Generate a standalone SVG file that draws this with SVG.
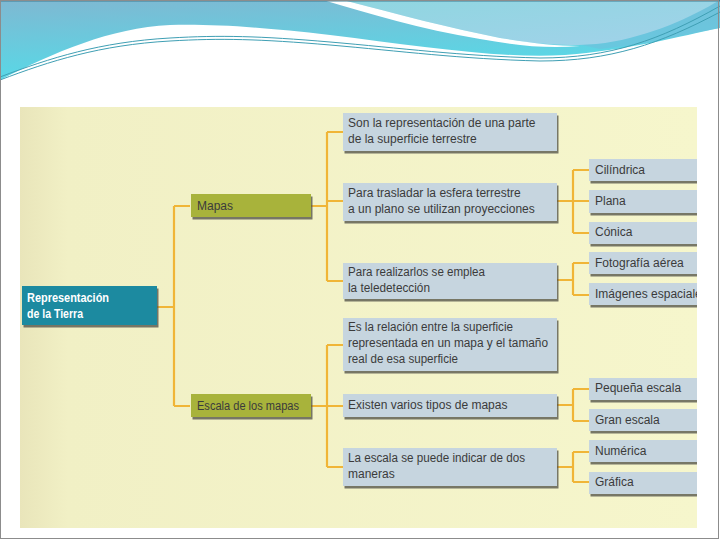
<svg xmlns="http://www.w3.org/2000/svg" width="720" height="540" viewBox="0 0 720 540">
<defs>
  <linearGradient id="teal" x1="0" y1="0" x2="0.3" y2="1">
    <stop offset="0" stop-color="#7fb8d2"/>
    <stop offset="1" stop-color="#55dbe8"/>
  </linearGradient>
  <linearGradient id="lightblue" x1="0" y1="0" x2="1" y2="1">
    <stop offset="0" stop-color="#8fd6e0"/>
    <stop offset="1" stop-color="#a2d2ea"/>
  </linearGradient>
  <linearGradient id="paper" x1="0" y1="0" x2="1" y2="0">
    <stop offset="0" stop-color="#e9e5ba"/>
    <stop offset="0.07" stop-color="#f1f0c5"/>
    <stop offset="1" stop-color="#f6f6cc"/>
  </linearGradient>
  <filter id="sh" x="-10%" y="-20%" width="130%" height="160%">
    <feDropShadow dx="1.5" dy="2.5" stdDeviation="0.7" flood-color="#4d4d45" flood-opacity="0.75"/>
  </filter>
  <clipPath id="area"><rect x="20" y="107" width="677" height="421"/></clipPath>
  <style>
    .t { font-family: "Liberation Sans", Arial, sans-serif; font-size: 12px; fill: #3b3b3b; }
    .tb { font-family: "Liberation Sans", Arial, sans-serif; font-size: 13px; font-weight: bold; fill: #ffffff; }
    .blue { fill: #c6d5df; filter: url(#sh); }
    .olive { fill: #a8b33b; filter: url(#sh); }
    .root { fill: #1a8aa0; filter: url(#sh); }
    .c { fill: none; stroke: #f0b537; stroke-width: 2.2; }
    .wl { fill: none; stroke: #3f9fb4; stroke-width: 1; }
  </style>
</defs>

<g id="background">
  <rect x="0" y="0" width="720" height="540" fill="#ffffff"/>
</g>

<g id="header">
  <path d="M0,0 H720 V28 C680,36 630,50 565,55 C500,59 420,46 330,35 C260,27 215,24 170,25 C110,28 55,52 0,80 Z" fill="url(#teal)"/>
  <path d="M0,0 H720 V28 C690,33 650,44 600,49 L560,40 C500,30 420,15 323,0 Z" fill="#6fc0dc" opacity="0.6"/>
  <path d="M343,0 H720 C690,18 650,36 605,43 C570,47 540,45 500,38 C450,28 400,15 343,0 Z" fill="url(#lightblue)"/>
  <path d="M323,0 L343,0 C400,15 450,28 500,38 C530,43 555,46 580,46 C545,49 515,45 480,39 C420,29 370,14 323,0 Z" fill="#ffffff"/>
  <path class="wl" d="M0,77 C50,58 100,42 170,38 C220,35 260,36 330,42 C400,48 460,56 540,58 C610,58 660,40 720,6"/>
  <path class="wl" d="M0,80 C50,61 100,45 170,41 C220,38 260,39 330,45 C400,51 460,59 540,61 C610,61 660,44 720,12" stroke="#6aa8b8"/>
  <rect x="0" y="0" width="720" height="1.5" fill="#3d7f96"/>
</g>

<g clip-path="url(#area)">
  <rect x="20" y="107" width="677" height="421" fill="url(#paper)"/>

  <g id="connectors">
    <path class="c" d="M157,307 H174 M174,206 V406 M174,206 H190 M174,406 H190"/>
    <path class="c" d="M311,206 H327 M327,132 V281 M327,132 H343 M327,201 H343 M327,281 H343"/>
    <path class="c" d="M311,406 H343 M327,345 V467 M327,345 H343 M327,467 H343"/>
    <path class="c" d="M557,201 H589 M573,170 V233 M573,170 H589 M573,233 H589"/>
    <path class="c" d="M557,280 H573 M573,263 V295 M573,263 H589 M573,295 H589"/>
    <path class="c" d="M557,405 H573 M573,389 V421 M573,389 H589 M573,421 H589"/>
    <path class="c" d="M557,467 H573 M573,452 V482 M573,452 H589 M573,482 H589"/>
  </g>

  <g id="node-root">
    <rect class="root" x="22" y="286" width="135" height="39"/>
    <text class="tb" x="27" y="302" textLength="82" lengthAdjust="spacingAndGlyphs">Representación</text>
    <text class="tb" x="27" y="318" textLength="56" lengthAdjust="spacingAndGlyphs">de la Tierra</text>
  </g>

  <g id="node-mapas">
    <rect class="olive" x="191" y="194" width="120" height="23"/>
    <text class="t" x="197" y="210">Mapas</text>
  </g>
  <g id="node-escala">
    <rect class="olive" x="191" y="394" width="120" height="23"/>
    <text class="t" x="197" y="410" textLength="102" lengthAdjust="spacingAndGlyphs">Escala de los mapas</text>
  </g>

  <g id="node-representacion-parte">
    <rect class="blue" x="343" y="113" width="214" height="38"/>
    <text class="t" x="348" y="127">Son la representación de una parte</text>
    <text class="t" x="348" y="143">de la superficie terrestre</text>
  </g>
  <g id="node-proyecciones">
    <rect class="blue" x="343" y="183" width="214" height="38"/>
    <text class="t" x="348" y="197">Para trasladar la esfera terrestre</text>
    <text class="t" x="348" y="213">a un plano se utilizan proyecciones</text>
  </g>
  <g id="node-teledeteccion">
    <rect class="blue" x="343" y="263" width="214" height="36"/>
    <text class="t" x="348" y="276" textLength="137" lengthAdjust="spacingAndGlyphs">Para realizarlos se emplea</text>
    <text class="t" x="348" y="292" textLength="82" lengthAdjust="spacingAndGlyphs">la teledetección</text>
  </g>
  <g id="node-relacion">
    <rect class="blue" x="343" y="318" width="214" height="53"/>
    <text class="t" x="348" y="331" textLength="165" lengthAdjust="spacingAndGlyphs">Es la relación entre la superficie</text>
    <text class="t" x="348" y="347" textLength="200" lengthAdjust="spacingAndGlyphs">representada en un mapa y el tamaño</text>
    <text class="t" x="348" y="363" textLength="110" lengthAdjust="spacingAndGlyphs">real de esa superficie</text>
  </g>
  <g id="node-tipos">
    <rect class="blue" x="343" y="394" width="214" height="23"/>
    <text class="t" x="348" y="409">Existen varios tipos de mapas</text>
  </g>
  <g id="node-maneras">
    <rect class="blue" x="343" y="448" width="214" height="38"/>
    <text class="t" x="348" y="462" textLength="177" lengthAdjust="spacingAndGlyphs">La escala se puede indicar de dos</text>
    <text class="t" x="348" y="478">maneras</text>
  </g>

  <g id="node-cilindrica">
    <rect class="blue" x="589" y="159" width="120" height="22"/>
    <text class="t" x="595" y="174">Cilíndrica</text>
  </g>
  <g id="node-plana">
    <rect class="blue" x="589" y="190" width="120" height="23"/>
    <text class="t" x="595" y="205">Plana</text>
  </g>
  <g id="node-conica">
    <rect class="blue" x="589" y="222" width="120" height="22"/>
    <text class="t" x="595" y="236">Cónica</text>
  </g>
  <g id="node-fotografia">
    <rect class="blue" x="589" y="252" width="120" height="22"/>
    <text class="t" x="595" y="267">Fotografía aérea</text>
  </g>
  <g id="node-imagenes">
    <rect class="blue" x="589" y="283" width="120" height="22"/>
    <text class="t" x="595" y="298">Imágenes espaciales</text>
  </g>
  <g id="node-pequena">
    <rect class="blue" x="589" y="378" width="120" height="22"/>
    <text class="t" x="595" y="392">Pequeña escala</text>
  </g>
  <g id="node-gran">
    <rect class="blue" x="589" y="409" width="120" height="22"/>
    <text class="t" x="595" y="424">Gran escala</text>
  </g>
  <g id="node-numerica">
    <rect class="blue" x="589" y="440" width="120" height="22"/>
    <text class="t" x="595" y="455">Numérica</text>
  </g>
  <g id="node-grafica">
    <rect class="blue" x="589" y="472" width="120" height="22"/>
    <text class="t" x="595" y="486">Gráfica</text>
  </g>
</g>

<rect x="0.5" y="0.5" width="718" height="538" fill="none" stroke="#8c8c8c" stroke-width="1"/>
</svg>
